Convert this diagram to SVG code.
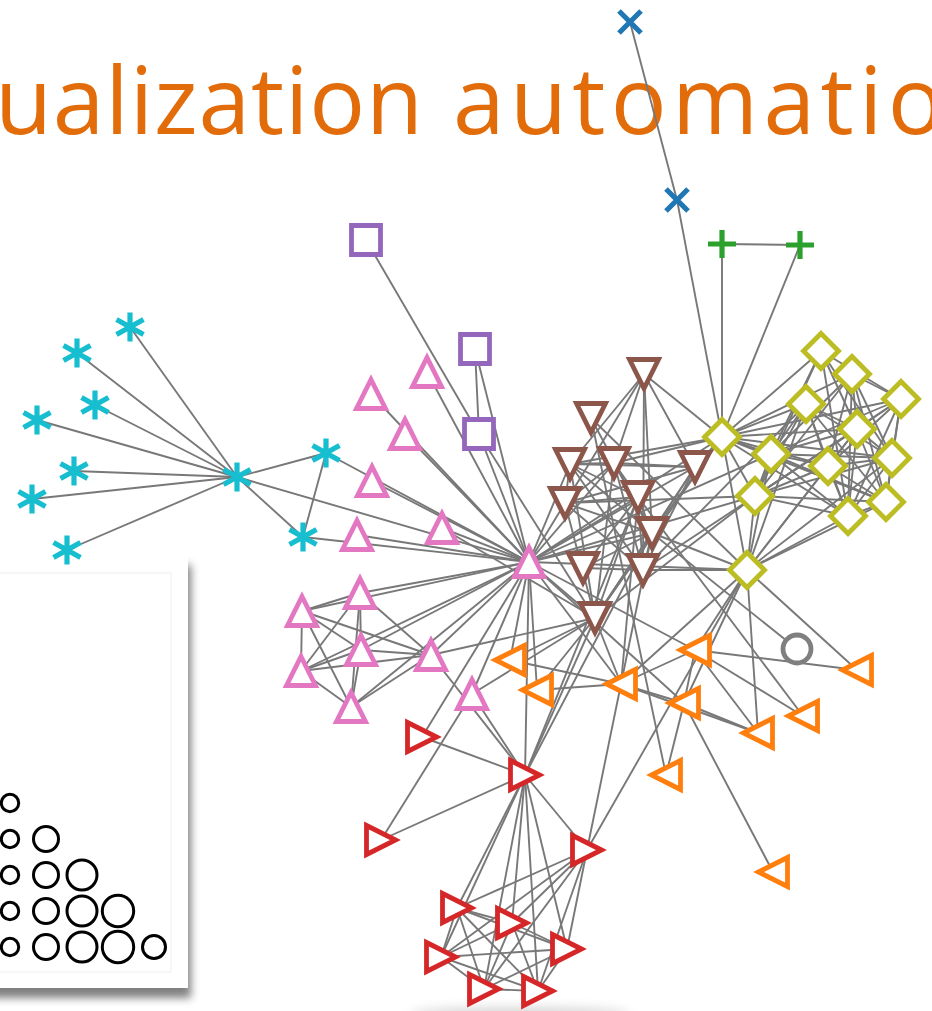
<svg xmlns="http://www.w3.org/2000/svg" xmlns:xlink="http://www.w3.org/1999/xlink" width="932" height="1011" viewBox="0 0 932 1011">
  <style>
    .title { font-family: "Open Sans", "Liberation Sans", sans-serif; font-weight: 400; font-size: 93px; fill: #E36C0A; }
    .edge { stroke: #787878; stroke-width: 1.9; fill: none; }
    .mk { fill: #ffffff; stroke-width: 4.8; stroke-linejoin: miter; stroke-miterlimit: 10; }
    .ln { fill: none; stroke-width: 5.2; stroke-linecap: butt; }
    .c-blue { stroke: #1f77b4; }
    .c-orange { stroke: #ff7f0e; }
    .c-green { stroke: #2ca02c; }
    .c-red { stroke: #d62728; }
    .c-purple { stroke: #9467bd; }
    .c-brown { stroke: #8c564b; }
    .c-pink { stroke: #e377c2; }
    .c-gray { stroke: #7f7f7f; }
    .c-olive { stroke: #bcbd22; }
    .c-cyan { stroke: #17becf; }
    .key { fill: #ffffff; stroke: #000000; stroke-width: 3; }
  </style>
  <defs>
    <filter id="cardShadow" x="-20%" y="-10%" width="140%" height="130%">
      <feGaussianBlur in="SourceAlpha" stdDeviation="4"/>
      <feOffset dx="3" dy="10" result="off"/>
      <feComponentTransfer><feFuncA type="linear" slope="0.5"/></feComponentTransfer>
      <feMerge><feMergeNode/><feMergeNode in="SourceGraphic"/></feMerge>
    </filter>
    <filter id="soft" x="-50%" y="-200%" width="200%" height="500%">
      <feGaussianBlur stdDeviation="6"/>
    </filter>
    <path id="triUp" d="M0,-14.5 L-14.5,14.5 L14.5,14.5 Z"/>
    <path id="triDown" d="M0,14.5 L-14.5,-14.5 L14.5,-14.5 Z"/>
    <path id="triLeft" d="M-14.5,0 L14.5,-14.5 L14.5,14.5 Z"/>
    <path id="triRight" d="M14.5,0 L-14.5,-14.5 L-14.5,14.5 Z"/>
    <path id="square" d="M-14.5,-14.5 H14.5 V14.5 H-14.5 Z"/>
    <path id="diamond" d="M0,-17.5 L17.5,0 L0,17.5 L-17.5,0 Z"/>
    <circle id="ring" r="14"/>
    <path id="plus" d="M-14,0 H14 M0,-14 V14"/>
    <path id="cross" d="M-11,-11 L11,11 M-11,11 L11,-11"/>
    <path id="aster" d="M0,-14.5 V14.5 M-13.5,-7.5 L13.5,7.5 M-13.5,7.5 L13.5,-7.5"/>
  </defs>

  <rect width="932" height="1011" fill="#ffffff"/>

  <!-- slide title, running off both edges -->
  <g id="title">
    <text class="title" x="-5" y="134" textLength="428" lengthAdjust="spacing">ualization</text>
    <text class="title" x="453" y="134" textLength="553" lengthAdjust="spacing">automation</text>
  </g>

  <!-- faint shadow along the foot of the graph picture -->
  <ellipse cx="520" cy="1014" rx="110" ry="6" fill="#000000" opacity="0.18" filter="url(#soft)"/>

  <!-- size key card -->
  <g id="legend">
    <rect x="-20" y="555" width="208" height="433" fill="#ffffff" filter="url(#cardShadow)"/>
    <rect x="-20" y="573" width="191" height="399" fill="none" stroke="#eeeeee" stroke-width="1"/>
    <circle class="key" cx="10" cy="803" r="8.7"/>
    <circle class="key" cx="10" cy="839" r="8.7"/>
    <circle class="key" cx="46" cy="839" r="12.5"/>
    <circle class="key" cx="10" cy="875" r="8.7"/>
    <circle class="key" cx="46" cy="875" r="12.5"/>
    <circle class="key" cx="82" cy="875" r="15"/>
    <circle class="key" cx="10" cy="911" r="8.7"/>
    <circle class="key" cx="46" cy="911" r="12.5"/>
    <circle class="key" cx="82" cy="911" r="15"/>
    <circle class="key" cx="118" cy="911" r="15.7"/>
    <circle class="key" cx="10" cy="947" r="8.7"/>
    <circle class="key" cx="46" cy="947" r="12.5"/>
    <circle class="key" cx="82" cy="947" r="15"/>
    <circle class="key" cx="118" cy="947" r="15.7"/>
    <circle class="key" cx="154" cy="947" r="11.5"/>
  </g>

  <g id="edges" class="edge">
    <!-- Myriel cluster -->
    <line x1="130" y1="327" x2="237" y2="477"/>
    <line x1="326" y1="453" x2="237" y2="477"/>
    <line x1="303" y1="537" x2="237" y2="477"/>
    <line x1="303" y1="537" x2="326" y2="453"/>
    <line x1="77" y1="353" x2="237" y2="477"/>
    <line x1="95" y1="405" x2="237" y2="477"/>
    <line x1="37" y1="420" x2="237" y2="477"/>
    <line x1="74" y1="471" x2="237" y2="477"/>
    <line x1="32" y1="499" x2="237" y2="477"/>
    <line x1="67" y1="550" x2="237" y2="477"/>
    <!-- Valjean hub -->
    <line x1="529" y1="562" x2="427" y2="372"/>
    <line x1="529" y1="562" x2="303" y2="537"/>
    <line x1="529" y1="562" x2="326" y2="453"/>
    <line x1="529" y1="562" x2="237" y2="477"/>
    <line x1="422" y1="737" x2="529" y2="562"/>
    <line x1="371" y1="394" x2="529" y2="562"/>
    <line x1="405" y1="434" x2="529" y2="562"/>
    <line x1="372" y1="481" x2="529" y2="562"/>
    <!-- Tholomyes clique -->
    <line x1="457" y1="908" x2="587" y2="850"/>
    <line x1="512" y1="923" x2="587" y2="850"/>
    <line x1="512" y1="923" x2="457" y2="908"/>
    <line x1="441" y1="957" x2="587" y2="850"/>
    <line x1="441" y1="957" x2="457" y2="908"/>
    <line x1="441" y1="957" x2="512" y2="923"/>
    <line x1="567" y1="949" x2="587" y2="850"/>
    <line x1="567" y1="949" x2="457" y2="908"/>
    <line x1="567" y1="949" x2="512" y2="923"/>
    <line x1="567" y1="949" x2="441" y2="957"/>
    <line x1="484" y1="989" x2="587" y2="850"/>
    <line x1="484" y1="989" x2="457" y2="908"/>
    <line x1="484" y1="989" x2="512" y2="923"/>
    <line x1="484" y1="989" x2="441" y2="957"/>
    <line x1="484" y1="989" x2="567" y2="949"/>
    <line x1="538" y1="991" x2="587" y2="850"/>
    <line x1="538" y1="991" x2="457" y2="908"/>
    <line x1="538" y1="991" x2="512" y2="923"/>
    <line x1="538" y1="991" x2="441" y2="957"/>
    <line x1="538" y1="991" x2="567" y2="949"/>
    <line x1="538" y1="991" x2="484" y2="989"/>
    <!-- Fantine -->
    <line x1="525" y1="775" x2="587" y2="850"/>
    <line x1="525" y1="775" x2="457" y2="908"/>
    <line x1="525" y1="775" x2="512" y2="923"/>
    <line x1="525" y1="775" x2="441" y2="957"/>
    <line x1="525" y1="775" x2="567" y2="949"/>
    <line x1="525" y1="775" x2="484" y2="989"/>
    <line x1="525" y1="775" x2="538" y2="991"/>
    <line x1="525" y1="775" x2="422" y2="737"/>
    <line x1="525" y1="775" x2="529" y2="562"/>
    <line x1="638" y1="497" x2="525" y2="775"/>
    <line x1="638" y1="497" x2="529" y2="562"/>
    <line x1="652" y1="533" x2="638" y2="497"/>
    <line x1="652" y1="533" x2="529" y2="562"/>
    <line x1="652" y1="533" x2="525" y2="775"/>
    <line x1="621" y1="684" x2="638" y2="497"/>
    <line x1="621" y1="684" x2="529" y2="562"/>
    <line x1="621" y1="684" x2="587" y2="850"/>
    <line x1="621" y1="684" x2="652" y2="533"/>
    <!-- Javert -->
    <line x1="595" y1="618" x2="529" y2="562"/>
    <line x1="595" y1="618" x2="525" y2="775"/>
    <line x1="595" y1="618" x2="652" y2="533"/>
    <line x1="595" y1="618" x2="638" y2="497"/>
    <line x1="595" y1="618" x2="621" y2="684"/>
    <line x1="479" y1="434" x2="529" y2="562"/>
    <line x1="479" y1="434" x2="595" y2="618"/>
    <!-- trial group -->
    <line x1="431" y1="655" x2="525" y2="775"/>
    <line x1="431" y1="655" x2="595" y2="618"/>
    <line x1="431" y1="655" x2="529" y2="562"/>
    <line x1="381" y1="840" x2="525" y2="775"/>
    <line x1="472" y1="694" x2="381" y2="840"/>
    <line x1="472" y1="694" x2="529" y2="562"/>
    <line x1="472" y1="694" x2="525" y2="775"/>
    <line x1="472" y1="694" x2="595" y2="618"/>
    <line x1="357" y1="535" x2="529" y2="562"/>
    <line x1="442" y1="528" x2="529" y2="562"/>
    <line x1="442" y1="528" x2="595" y2="618"/>
    <line x1="360" y1="593" x2="529" y2="562"/>
    <line x1="360" y1="593" x2="431" y2="655"/>
    <line x1="302" y1="611" x2="529" y2="562"/>
    <line x1="302" y1="611" x2="360" y2="593"/>
    <line x1="302" y1="611" x2="431" y2="655"/>
    <line x1="361" y1="650" x2="360" y2="593"/>
    <line x1="361" y1="650" x2="302" y2="611"/>
    <line x1="361" y1="650" x2="529" y2="562"/>
    <line x1="361" y1="650" x2="431" y2="655"/>
    <line x1="301" y1="671" x2="360" y2="593"/>
    <line x1="301" y1="671" x2="302" y2="611"/>
    <line x1="301" y1="671" x2="361" y2="650"/>
    <line x1="301" y1="671" x2="529" y2="562"/>
    <line x1="301" y1="671" x2="431" y2="655"/>
    <line x1="351" y1="707" x2="360" y2="593"/>
    <line x1="351" y1="707" x2="302" y2="611"/>
    <line x1="351" y1="707" x2="361" y2="650"/>
    <line x1="351" y1="707" x2="301" y2="671"/>
    <line x1="351" y1="707" x2="529" y2="562"/>
    <line x1="351" y1="707" x2="431" y2="655"/>
    <!-- Thenardier family -->
    <line x1="591" y1="418" x2="652" y2="533"/>
    <line x1="797" y1="649" x2="652" y2="533"/>
    <line x1="643" y1="570" x2="638" y2="497"/>
    <line x1="643" y1="570" x2="652" y2="533"/>
    <line x1="583" y1="568" x2="643" y2="570"/>
    <line x1="583" y1="568" x2="652" y2="533"/>
    <line x1="583" y1="568" x2="638" y2="497"/>
    <line x1="510" y1="660" x2="529" y2="562"/>
    <line x1="510" y1="660" x2="621" y2="684"/>
    <line x1="510" y1="660" x2="595" y2="618"/>
    <!-- convent -->
    <line x1="475" y1="349" x2="479" y2="434"/>
    <line x1="475" y1="349" x2="529" y2="562"/>
    <line x1="366" y1="240" x2="479" y2="434"/>
    <!-- Gavroche -->
    <line x1="800" y1="245" x2="722" y2="244"/>
    <line x1="722" y1="437" x2="800" y2="245"/>
    <line x1="722" y1="244" x2="722" y2="437"/>
    <line x1="722" y1="437" x2="652" y2="533"/>
    <line x1="722" y1="437" x2="595" y2="618"/>
    <line x1="722" y1="437" x2="529" y2="562"/>
    <line x1="630" y1="22" x2="677" y2="200"/>
    <line x1="677" y1="200" x2="722" y2="437"/>
    <!-- Gillenormand household -->
    <line x1="695" y1="650" x2="621" y2="684"/>
    <line x1="695" y1="650" x2="529" y2="562"/>
    <line x1="803" y1="716" x2="695" y2="650"/>
    <line x1="803" y1="716" x2="638" y2="497"/>
    <line x1="684" y1="703" x2="695" y2="650"/>
    <line x1="684" y1="703" x2="621" y2="684"/>
    <line x1="684" y1="703" x2="529" y2="562"/>
    <line x1="666" y1="775" x2="684" y2="703"/>
    <line x1="666" y1="775" x2="591" y2="418"/>
    <line x1="773" y1="872" x2="684" y2="703"/>
    <line x1="758" y1="733" x2="684" y2="703"/>
    <line x1="758" y1="733" x2="695" y2="650"/>
    <line x1="758" y1="733" x2="621" y2="684"/>
    <!-- Marius -->
    <line x1="747" y1="570" x2="684" y2="703"/>
    <line x1="747" y1="570" x2="695" y2="650"/>
    <line x1="747" y1="570" x2="591" y2="418"/>
    <line x1="747" y1="570" x2="758" y2="733"/>
    <line x1="747" y1="570" x2="621" y2="684"/>
    <line x1="747" y1="570" x2="529" y2="562"/>
    <line x1="747" y1="570" x2="587" y2="850"/>
    <line x1="747" y1="570" x2="652" y2="533"/>
    <line x1="747" y1="570" x2="643" y2="570"/>
    <line x1="747" y1="570" x2="722" y2="437"/>
    <line x1="857" y1="670" x2="695" y2="650"/>
    <line x1="857" y1="670" x2="747" y2="570"/>
    <!-- barricade -->
    <line x1="806" y1="404" x2="747" y2="570"/>
    <line x1="806" y1="404" x2="643" y2="570"/>
    <line x1="806" y1="404" x2="722" y2="437"/>
    <line x1="755" y1="496" x2="747" y2="570"/>
    <line x1="755" y1="496" x2="722" y2="437"/>
    <line x1="755" y1="496" x2="595" y2="618"/>
    <line x1="755" y1="496" x2="806" y2="404"/>
    <line x1="755" y1="496" x2="529" y2="562"/>
    <line x1="828" y1="466" x2="755" y2="496"/>
    <line x1="828" y1="466" x2="747" y2="570"/>
    <line x1="828" y1="466" x2="722" y2="437"/>
    <line x1="828" y1="466" x2="806" y2="404"/>
    <line x1="852" y1="374" x2="722" y2="437"/>
    <line x1="852" y1="374" x2="755" y2="496"/>
    <line x1="852" y1="374" x2="828" y2="466"/>
    <line x1="886" y1="502" x2="722" y2="437"/>
    <line x1="886" y1="502" x2="755" y2="496"/>
    <line x1="886" y1="502" x2="852" y2="374"/>
    <line x1="886" y1="502" x2="828" y2="466"/>
    <line x1="886" y1="502" x2="806" y2="404"/>
    <line x1="886" y1="502" x2="747" y2="570"/>
    <line x1="857" y1="429" x2="747" y2="570"/>
    <line x1="857" y1="429" x2="755" y2="496"/>
    <line x1="857" y1="429" x2="828" y2="466"/>
    <line x1="857" y1="429" x2="722" y2="437"/>
    <line x1="857" y1="429" x2="806" y2="404"/>
    <line x1="857" y1="429" x2="643" y2="570"/>
    <line x1="857" y1="429" x2="886" y2="502"/>
    <line x1="857" y1="429" x2="852" y2="374"/>
    <line x1="892" y1="458" x2="828" y2="466"/>
    <line x1="892" y1="458" x2="722" y2="437"/>
    <line x1="892" y1="458" x2="857" y2="429"/>
    <line x1="892" y1="458" x2="806" y2="404"/>
    <line x1="892" y1="458" x2="755" y2="496"/>
    <line x1="892" y1="458" x2="886" y2="502"/>
    <line x1="892" y1="458" x2="852" y2="374"/>
    <line x1="892" y1="458" x2="747" y2="570"/>
    <line x1="771" y1="454" x2="747" y2="570"/>
    <line x1="771" y1="454" x2="857" y2="429"/>
    <line x1="771" y1="454" x2="722" y2="437"/>
    <line x1="771" y1="454" x2="892" y2="458"/>
    <line x1="771" y1="454" x2="755" y2="496"/>
    <line x1="771" y1="454" x2="886" y2="502"/>
    <line x1="771" y1="454" x2="852" y2="374"/>
    <line x1="771" y1="454" x2="828" y2="466"/>
    <line x1="771" y1="454" x2="806" y2="404"/>
    <line x1="771" y1="454" x2="529" y2="562"/>
    <line x1="848" y1="516" x2="892" y2="458"/>
    <line x1="848" y1="516" x2="771" y2="454"/>
    <line x1="848" y1="516" x2="722" y2="437"/>
    <line x1="848" y1="516" x2="857" y2="429"/>
    <line x1="848" y1="516" x2="755" y2="496"/>
    <line x1="848" y1="516" x2="886" y2="502"/>
    <line x1="848" y1="516" x2="852" y2="374"/>
    <line x1="848" y1="516" x2="828" y2="466"/>
    <line x1="848" y1="516" x2="806" y2="404"/>
    <line x1="848" y1="516" x2="747" y2="570"/>
    <line x1="901" y1="399" x2="771" y2="454"/>
    <line x1="901" y1="399" x2="755" y2="496"/>
    <line x1="901" y1="399" x2="828" y2="466"/>
    <line x1="901" y1="399" x2="857" y2="429"/>
    <line x1="901" y1="399" x2="848" y2="516"/>
    <line x1="901" y1="399" x2="722" y2="437"/>
    <line x1="901" y1="399" x2="892" y2="458"/>
    <line x1="901" y1="399" x2="886" y2="502"/>
    <line x1="901" y1="399" x2="852" y2="374"/>
    <!-- Patron-Minette -->
    <line x1="614" y1="463" x2="652" y2="533"/>
    <line x1="614" y1="463" x2="529" y2="562"/>
    <line x1="614" y1="463" x2="638" y2="497"/>
    <line x1="614" y1="463" x2="595" y2="618"/>
    <line x1="614" y1="463" x2="722" y2="437"/>
    <line x1="614" y1="463" x2="643" y2="570"/>
    <line x1="570" y1="464" x2="652" y2="533"/>
    <line x1="570" y1="464" x2="614" y2="463"/>
    <line x1="570" y1="464" x2="529" y2="562"/>
    <line x1="570" y1="464" x2="638" y2="497"/>
    <line x1="570" y1="464" x2="595" y2="618"/>
    <line x1="570" y1="464" x2="722" y2="437"/>
    <line x1="570" y1="464" x2="643" y2="570"/>
    <line x1="565" y1="503" x2="652" y2="533"/>
    <line x1="565" y1="503" x2="570" y2="464"/>
    <line x1="565" y1="503" x2="614" y2="463"/>
    <line x1="565" y1="503" x2="529" y2="562"/>
    <line x1="565" y1="503" x2="638" y2="497"/>
    <line x1="565" y1="503" x2="595" y2="618"/>
    <line x1="565" y1="503" x2="643" y2="570"/>
    <line x1="565" y1="503" x2="755" y2="496"/>
    <line x1="695" y1="467" x2="595" y2="618"/>
    <line x1="695" y1="467" x2="570" y2="464"/>
    <line x1="695" y1="467" x2="614" y2="463"/>
    <line x1="695" y1="467" x2="565" y2="503"/>
    <line x1="695" y1="467" x2="529" y2="562"/>
    <line x1="695" y1="467" x2="722" y2="437"/>
    <line x1="695" y1="467" x2="643" y2="570"/>
    <line x1="695" y1="467" x2="652" y2="533"/>
    <line x1="537" y1="690" x2="621" y2="684"/>
    <line x1="537" y1="690" x2="595" y2="618"/>
    <line x1="537" y1="690" x2="529" y2="562"/>
    <line x1="644" y1="374" x2="570" y2="464"/>
    <line x1="644" y1="374" x2="614" y2="463"/>
    <line x1="644" y1="374" x2="652" y2="533"/>
    <line x1="644" y1="374" x2="722" y2="437"/>
    <line x1="644" y1="374" x2="643" y2="570"/>
    <line x1="644" y1="374" x2="565" y2="503"/>
    <line x1="644" y1="374" x2="695" y2="467"/>
    <!-- Corinthe -->
    <line x1="821" y1="351" x2="771" y2="454"/>
    <line x1="821" y1="351" x2="848" y2="516"/>
    <line x1="821" y1="351" x2="901" y2="399"/>
    <line x1="821" y1="351" x2="892" y2="458"/>
    <line x1="821" y1="351" x2="857" y2="429"/>
    <line x1="821" y1="351" x2="722" y2="437"/>
    <line x1="821" y1="351" x2="755" y2="496"/>
  </g>

  <g id="nodes">
    <!-- Myriel's circle -->
    <g id="n-myriel" class="ln c-cyan"><use xlink:href="#aster" x="237" y="477"/></g>
    <g id="n-napoleon" class="ln c-cyan"><use xlink:href="#aster" x="130" y="327"/></g>
    <g id="n-baptistine" class="ln c-cyan"><use xlink:href="#aster" x="326" y="453"/></g>
    <g id="n-magloire" class="ln c-cyan"><use xlink:href="#aster" x="303" y="537"/></g>
    <g id="n-countessdelo" class="ln c-cyan"><use xlink:href="#aster" x="77" y="353"/></g>
    <g id="n-geborand" class="ln c-cyan"><use xlink:href="#aster" x="95" y="405"/></g>
    <g id="n-champtercier" class="ln c-cyan"><use xlink:href="#aster" x="37" y="420"/></g>
    <g id="n-cravatte" class="ln c-cyan"><use xlink:href="#aster" x="74" y="471"/></g>
    <g id="n-count" class="ln c-cyan"><use xlink:href="#aster" x="32" y="499"/></g>
    <g id="n-oldman" class="ln c-cyan"><use xlink:href="#aster" x="67" y="550"/></g>

    <!-- convent -->
    <g id="n-gribier" class="mk c-purple"><use xlink:href="#square" x="366" y="240"/></g>
    <g id="n-motherinnocent" class="mk c-purple"><use xlink:href="#square" x="475" y="349"/></g>
    <g id="n-fauchelevent" class="mk c-purple"><use xlink:href="#square" x="479" y="434"/></g>

    <!-- Valjean and the trial -->
    <g id="n-labarre" class="mk c-pink"><use xlink:href="#triUp" x="427" y="372"/></g>
    <g id="n-mmederr" class="mk c-pink"><use xlink:href="#triUp" x="371" y="394"/></g>
    <g id="n-isabeau" class="mk c-pink"><use xlink:href="#triUp" x="405" y="434"/></g>
    <g id="n-gervais" class="mk c-pink"><use xlink:href="#triUp" x="372" y="481"/></g>
    <g id="n-woman1" class="mk c-pink"><use xlink:href="#triUp" x="442" y="528"/></g>
    <g id="n-scaufflaire" class="mk c-pink"><use xlink:href="#triUp" x="357" y="535"/></g>
    <g id="n-valjean" class="mk c-pink"><use xlink:href="#triUp" x="529" y="562"/></g>
    <g id="n-judge" class="mk c-pink"><use xlink:href="#triUp" x="360" y="593"/></g>
    <g id="n-champmathieu" class="mk c-pink"><use xlink:href="#triUp" x="302" y="611"/></g>
    <g id="n-brevet" class="mk c-pink"><use xlink:href="#triUp" x="361" y="650"/></g>
    <g id="n-bamatabois" class="mk c-pink"><use xlink:href="#triUp" x="431" y="655"/></g>
    <g id="n-chenildieu" class="mk c-pink"><use xlink:href="#triUp" x="301" y="671"/></g>
    <g id="n-cochepaille" class="mk c-pink"><use xlink:href="#triUp" x="351" y="707"/></g>
    <g id="n-simplice" class="mk c-pink"><use xlink:href="#triUp" x="472" y="694"/></g>

    <!-- Thenardiers and Patron-Minette -->
    <g id="n-brujon" class="mk c-brown"><use xlink:href="#triDown" x="644" y="374"/></g>
    <g id="n-pontmercy" class="mk c-brown"><use xlink:href="#triDown" x="591" y="418"/></g>
    <g id="n-babet" class="mk c-brown"><use xlink:href="#triDown" x="570" y="464"/></g>
    <g id="n-gueulemer" class="mk c-brown"><use xlink:href="#triDown" x="614" y="463"/></g>
    <g id="n-montparnasse" class="mk c-brown"><use xlink:href="#triDown" x="695" y="467"/></g>
    <g id="n-claquesous" class="mk c-brown"><use xlink:href="#triDown" x="565" y="503"/></g>
    <g id="n-mmethenardier" class="mk c-brown"><use xlink:href="#triDown" x="638" y="497"/></g>
    <g id="n-thenardier" class="mk c-brown"><use xlink:href="#triDown" x="652" y="533"/></g>
    <g id="n-anzelma" class="mk c-brown"><use xlink:href="#triDown" x="583" y="568"/></g>
    <g id="n-eponine" class="mk c-brown"><use xlink:href="#triDown" x="643" y="570"/></g>
    <g id="n-javert" class="mk c-brown"><use xlink:href="#triDown" x="595" y="618"/></g>

    <!-- barricade -->
    <g id="n-mmehucheloup" class="mk c-olive"><use xlink:href="#diamond" x="821" y="351"/></g>
    <g id="n-prouvaire" class="mk c-olive"><use xlink:href="#diamond" x="852" y="374"/></g>
    <g id="n-grantaire" class="mk c-olive"><use xlink:href="#diamond" x="901" y="399"/></g>
    <g id="n-mabeuf" class="mk c-olive"><use xlink:href="#diamond" x="806" y="404"/></g>
    <g id="n-courfeyrac" class="mk c-olive"><use xlink:href="#diamond" x="857" y="429"/></g>
    <g id="n-gavroche" class="mk c-olive"><use xlink:href="#diamond" x="722" y="437"/></g>
    <g id="n-bossuet" class="mk c-olive"><use xlink:href="#diamond" x="771" y="454"/></g>
    <g id="n-bahorel" class="mk c-olive"><use xlink:href="#diamond" x="892" y="458"/></g>
    <g id="n-combeferre" class="mk c-olive"><use xlink:href="#diamond" x="828" y="466"/></g>
    <g id="n-enjolras" class="mk c-olive"><use xlink:href="#diamond" x="755" y="496"/></g>
    <g id="n-feuilly" class="mk c-olive"><use xlink:href="#diamond" x="886" y="502"/></g>
    <g id="n-joly" class="mk c-olive"><use xlink:href="#diamond" x="848" y="516"/></g>
    <g id="n-marius" class="mk c-olive"><use xlink:href="#diamond" x="747" y="570"/></g>

    <g id="n-boulatruelle" class="mk c-gray"><use xlink:href="#ring" x="797" y="649"/></g>

    <g id="n-jondrette" class="ln c-green"><use xlink:href="#plus" x="722" y="244"/></g>
    <g id="n-mmeburgon" class="ln c-green"><use xlink:href="#plus" x="800" y="245"/></g>

    <g id="n-child1" class="ln c-blue"><use xlink:href="#cross" x="630" y="22"/></g>
    <g id="n-child2" class="ln c-blue"><use xlink:href="#cross" x="677" y="200"/></g>

    <!-- Cosette and the Gillenormands -->
    <g id="n-woman2" class="mk c-orange"><use xlink:href="#triLeft" x="510" y="660"/></g>
    <g id="n-toussaint" class="mk c-orange"><use xlink:href="#triLeft" x="537" y="690"/></g>
    <g id="n-cosette" class="mk c-orange"><use xlink:href="#triLeft" x="621" y="684"/></g>
    <g id="n-gillenormand" class="mk c-orange"><use xlink:href="#triLeft" x="695" y="650"/></g>
    <g id="n-mllegillenormand" class="mk c-orange"><use xlink:href="#triLeft" x="684" y="703"/></g>
    <g id="n-baronesst" class="mk c-orange"><use xlink:href="#triLeft" x="857" y="670"/></g>
    <g id="n-magnon" class="mk c-orange"><use xlink:href="#triLeft" x="803" y="716"/></g>
    <g id="n-ltgillenormand" class="mk c-orange"><use xlink:href="#triLeft" x="758" y="733"/></g>
    <g id="n-mmepontmercy" class="mk c-orange"><use xlink:href="#triLeft" x="666" y="775"/></g>
    <g id="n-mllevaubois" class="mk c-orange"><use xlink:href="#triLeft" x="773" y="872"/></g>

    <!-- Fantine's circle -->
    <g id="n-marguerite" class="mk c-red"><use xlink:href="#triRight" x="422" y="737"/></g>
    <g id="n-fantine" class="mk c-red"><use xlink:href="#triRight" x="525" y="775"/></g>
    <g id="n-perpetue" class="mk c-red"><use xlink:href="#triRight" x="381" y="840"/></g>
    <g id="n-tholomyes" class="mk c-red"><use xlink:href="#triRight" x="587" y="850"/></g>
    <g id="n-listolier" class="mk c-red"><use xlink:href="#triRight" x="457" y="908"/></g>
    <g id="n-fameuil" class="mk c-red"><use xlink:href="#triRight" x="512" y="923"/></g>
    <g id="n-favourite" class="mk c-red"><use xlink:href="#triRight" x="567" y="949"/></g>
    <g id="n-blacheville" class="mk c-red"><use xlink:href="#triRight" x="441" y="957"/></g>
    <g id="n-dahlia" class="mk c-red"><use xlink:href="#triRight" x="484" y="989"/></g>
    <g id="n-zephine" class="mk c-red"><use xlink:href="#triRight" x="538" y="991"/></g>
  </g>
</svg>
